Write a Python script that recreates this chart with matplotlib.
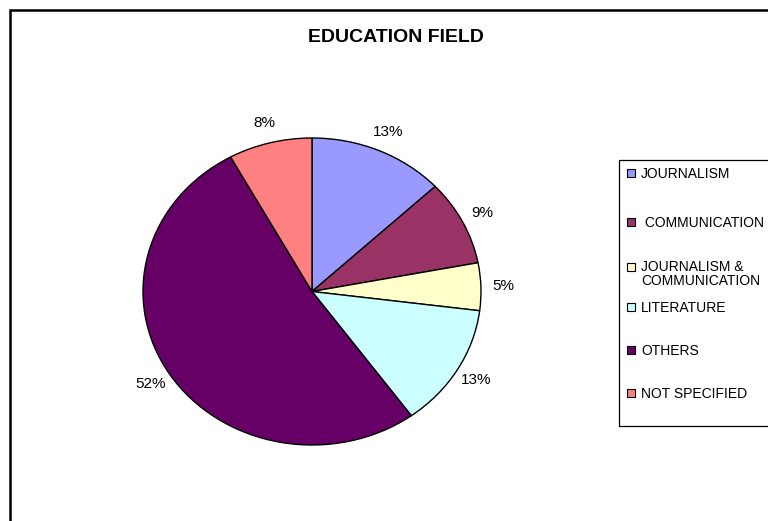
import matplotlib
matplotlib.use("Agg")
import matplotlib.pyplot as plt
from matplotlib.patches import Rectangle

categories = ["JOURNALISM", " COMMUNICATION", "JOURNALISM &\nCOMMUNICATION",
              "LITERATURE", "OTHERS", "NOT SPECIFIED"]
shares = [13, 9, 5, 13, 52, 8]
colors = ["#9999FF", "#993366", "#FFFFCC", "#CCFFFF", "#660066", "#FF8080"]
title = "EDUCATION FIELD"

W, H = 768, 521
plt.rcParams["font.family"] = ["Liberation Sans", "DejaVu Sans"]
fig = plt.figure(figsize=(W / 100, H / 100), dpi=100)


def fx(px):
    return px / W


def fy(py):
    return 1 - py / H


# outer chart frame (continues past the right and bottom edges)
fig.patches.append(Rectangle((fx(10), fy(700)), fx(900), fy(10) - fy(700),
                             transform=fig.transFigure, fill=False,
                             edgecolor="black", linewidth=1.8))

fig.text(fx(396), fy(37), title, ha="center", va="center",
         fontsize=14, fontweight="bold")

# pie drawn in an axes box that is wider than tall, giving an elliptic pie
left, right, top, bottom = 143, 481, 138, 445
ax = fig.add_axes([fx(left), fy(bottom), fx(right - left), fy(top) - fy(bottom)])
wedges, texts, autotexts = ax.pie(
    shares, colors=colors, startangle=90, counterclock=False,
    autopct="%1.0f%%", pctdistance=1.13,
    wedgeprops=dict(edgecolor="black", linewidth=1.0),
    textprops=dict(fontsize=11, color="black"))
ax.set_aspect("auto")
ax.set_xlim(-1, 1)
ax.set_ylim(-1, 1)
for t in autotexts:
    t.set_clip_on(False)

# legend panel
fig.patches.append(Rectangle((fx(619), fy(426)), fx(400), fy(160) - fy(426),
                             transform=fig.transFigure, fill=False,
                             edgecolor="black", linewidth=0.9))
row_y = [173, 222, 267, 307, 350, 393]
line_gap = 13
for lab, col, y in zip(categories, colors, row_y):
    fig.patches.append(Rectangle((fx(627), fy(y + 4)), fx(8), fy(y - 4) - fy(y + 4),
                                 transform=fig.transFigure, facecolor=col,
                                 edgecolor="black", linewidth=0.8))
    n_lines = lab.count("\n") + 1
    fig.text(fx(641), fy(y + 5 + line_gap * (n_lines - 1)), lab, ha="left",
             va="baseline", fontsize=10, linespacing=1.0)

fig.savefig("out.png", dpi=100)
